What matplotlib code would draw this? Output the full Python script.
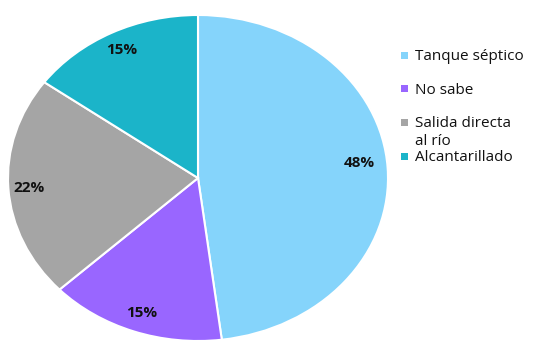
import matplotlib.pyplot as plt
from matplotlib.patches import Rectangle

plt.rcParams['font.family'] = ['Open Sans', 'DejaVu Sans']

categories = ['Tanque séptico', 'No sabe', 'Salida directa\nal río', 'Alcantarillado']
values = [48, 15, 22, 15]
colors = ['#85D4FB', '#9966FF', '#A5A5A5', '#1BB4C9']

W, H = 542, 355
fig = plt.figure(figsize=(W / 100, H / 100), dpi=100)
ax = fig.add_axes([8 / W, 14 / H, 380 / W, 326 / H])

wedges, texts, autotexts = ax.pie(
    values, colors=colors, startangle=90, counterclock=False,
    autopct='%1.0f%%', pctdistance=0.88,
    wedgeprops=dict(edgecolor='white', linewidth=1.5),
    textprops=dict(fontsize=11, fontweight='bold', color='#111111'))
ax.set_aspect('auto')
ax.set_xlim(-1.0, 1.0)
ax.set_ylim(-1.0, 1.0)

# excel "best fit" label spots
autotexts[0].set_position((0.85, 0.09))
autotexts[2].set_position((-0.89, -0.06))

# legend drawn by hand
y = 55
for lab, col in zip(categories, colors):
    fig.patches.append(Rectangle((401 / W, 1 - (y + 3.5) / H), 7 / W, 7 / H,
                                 transform=fig.transFigure, facecolor=col,
                                 edgecolor='none'))
    for k, line in enumerate(lab.split('\n')):
        fig.text(415 / W, 1 - (y + 5 + 18 * k) / H, line, fontsize=11,
                 va='baseline', ha='left', color='#111111')
    y += 33.7

fig.savefig('out.png', dpi=100)
